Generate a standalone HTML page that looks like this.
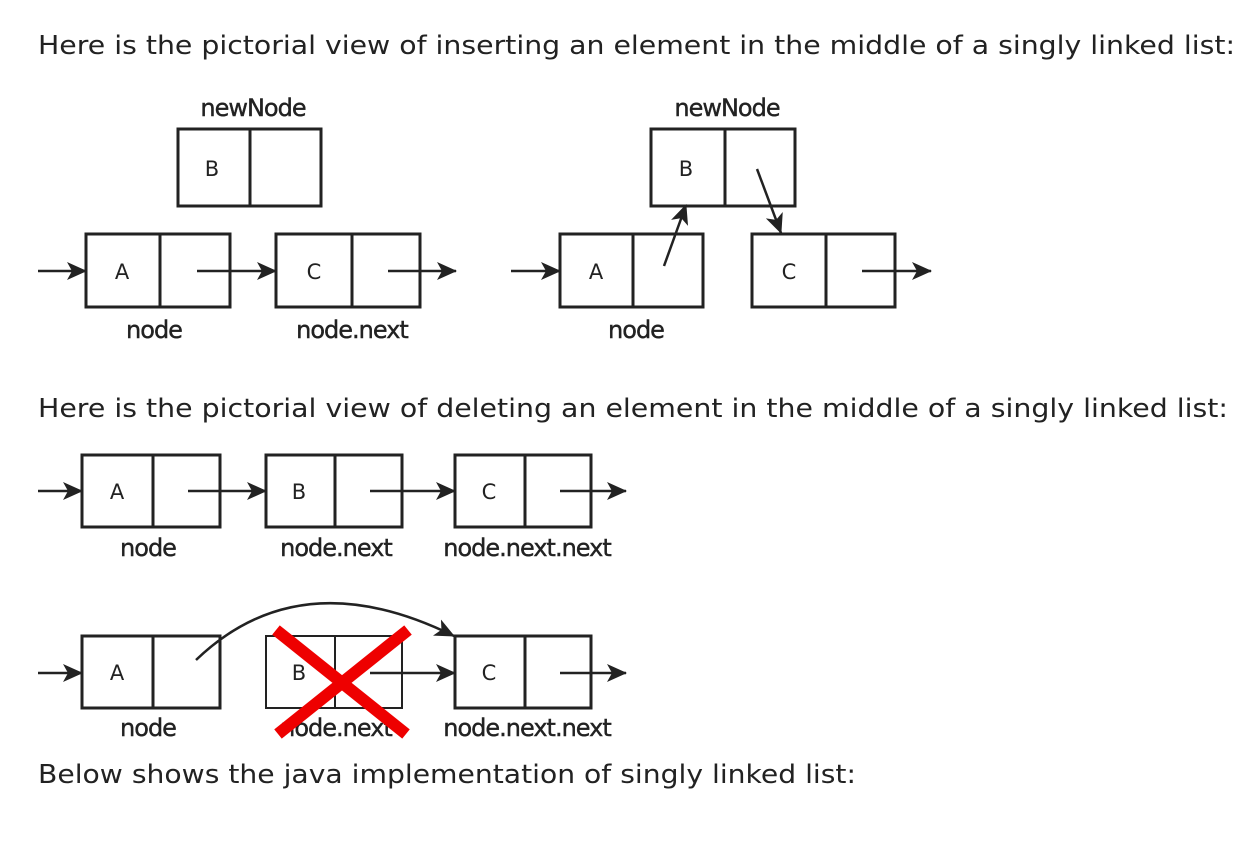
<!DOCTYPE html>
<html><head><meta charset="utf-8"><style>
html,body{margin:0;padding:0;background:#fff;width:1248px;height:843px;overflow:hidden}
svg{display:block}
.t{font-family:"DejaVu Sans","Liberation Sans",sans-serif;font-size:26px;fill:#222}
.l{font-family:"DejaVu Sans","Liberation Sans",sans-serif;font-size:24px;fill:#222;text-anchor:middle;letter-spacing:-1px;stroke:#222;stroke-width:0.4}
.b{font-family:"DejaVu Sans","Liberation Sans",sans-serif;font-size:21px;fill:#222;text-anchor:middle}
.bx{fill:none;stroke:#222;stroke-width:3}
.ln{stroke:#222;stroke-width:2.5;fill:none}
</style></head><body>
<svg width="1248" height="843" viewBox="0 0 1248 843">
<defs><marker id="a" markerWidth="20" markerHeight="18" refX="19" refY="9" orient="auto" markerUnits="userSpaceOnUse" viewBox="0 0 20 18"><path d="M0,0 L20,9 L0,18 L5,9 Z" fill="#222"/></marker></defs>
<text class="t" x="38" y="54" textLength="1197" lengthAdjust="spacingAndGlyphs">Here is the pictorial view of inserting an element in the middle of a singly linked list:</text>
<text class="t" x="38" y="417" textLength="1190" lengthAdjust="spacingAndGlyphs">Here is the pictorial view of deleting an element in the middle of a singly linked list:</text>
<text class="t" x="38" y="783" textLength="818" lengthAdjust="spacingAndGlyphs">Below shows the java implementation of singly linked list:</text>

<!-- insert left -->
<text class="l" x="253" y="116">newNode</text>
<rect class="bx" x="178" y="129" width="143" height="77"/><line class="bx" x1="250" y1="129" x2="250" y2="206"/>
<text class="b" x="212" y="176">B</text>
<rect class="bx" x="86" y="234" width="144" height="73"/><line class="bx" x1="160" y1="234" x2="160" y2="307"/>
<text class="b" x="122" y="279">A</text>
<rect class="bx" x="276" y="234" width="144" height="73"/><line class="bx" x1="352" y1="234" x2="352" y2="307"/>
<text class="b" x="314" y="279">C</text>
<line class="ln" x1="38" y1="271" x2="86" y2="271" marker-end="url(#a)"/>
<line class="ln" x1="197" y1="271" x2="276" y2="271" marker-end="url(#a)"/>
<line class="ln" x1="388" y1="271" x2="456" y2="271" marker-end="url(#a)"/>
<text class="l" x="154" y="338">node</text>
<text class="l" x="352" y="338">node.next</text>

<!-- insert right -->
<text class="l" x="727" y="116">newNode</text>
<rect class="bx" x="651" y="129" width="144" height="77"/><line class="bx" x1="725" y1="129" x2="725" y2="206"/>
<text class="b" x="686" y="176">B</text>
<rect class="bx" x="560" y="234" width="143" height="73"/><line class="bx" x1="633" y1="234" x2="633" y2="307"/>
<text class="b" x="596" y="279">A</text>
<rect class="bx" x="752" y="234" width="143" height="73"/><line class="bx" x1="826" y1="234" x2="826" y2="307"/>
<text class="b" x="789" y="279">C</text>
<line class="ln" x1="511" y1="271" x2="560" y2="271" marker-end="url(#a)"/>
<line class="ln" x1="664" y1="266" x2="686" y2="205" marker-end="url(#a)"/>
<line class="ln" x1="757" y1="169" x2="781" y2="233" marker-end="url(#a)"/>
<line class="ln" x1="862" y1="271" x2="931" y2="271" marker-end="url(#a)"/>
<text class="l" x="636" y="338">node</text>

<!-- delete top -->
<rect class="bx" x="82" y="455" width="138" height="72"/><line class="bx" x1="153" y1="455" x2="153" y2="527"/>
<text class="b" x="117" y="499">A</text>
<rect class="bx" x="266" y="455" width="136" height="72"/><line class="bx" x1="335" y1="455" x2="335" y2="527"/>
<text class="b" x="299" y="499">B</text>
<rect class="bx" x="455" y="455" width="136" height="72"/><line class="bx" x1="525" y1="455" x2="525" y2="527"/>
<text class="b" x="489" y="499">C</text>
<line class="ln" x1="38" y1="491" x2="82" y2="491" marker-end="url(#a)"/>
<line class="ln" x1="188" y1="491" x2="266" y2="491" marker-end="url(#a)"/>
<line class="ln" x1="370" y1="491" x2="455" y2="491" marker-end="url(#a)"/>
<line class="ln" x1="560" y1="491" x2="626" y2="491" marker-end="url(#a)"/>
<text class="l" x="148" y="556">node</text>
<text class="l" x="336" y="556">node.next</text>
<text class="l" x="527" y="556">node.next.next</text>

<!-- delete bottom -->
<rect class="bx" x="82" y="636" width="138" height="72"/><line class="bx" x1="153" y1="636" x2="153" y2="708"/>
<text class="b" x="117" y="680">A</text>
<rect class="bx" x="266" y="636" width="136" height="72" style="stroke-width:2"/><line class="bx" x1="335" y1="636" x2="335" y2="708" style="stroke-width:2"/>
<text class="b" x="299" y="680">B</text>
<rect class="bx" x="455" y="636" width="136" height="72"/><line class="bx" x1="525" y1="636" x2="525" y2="708"/>
<text class="b" x="489" y="680">C</text>
<line class="ln" x1="38" y1="673" x2="82" y2="673" marker-end="url(#a)"/>
<path class="ln" d="M196,660 Q300,560 454,636" marker-end="url(#a)"/>
<line class="ln" x1="370" y1="673" x2="455" y2="673" marker-end="url(#a)"/>
<line class="ln" x1="560" y1="673" x2="626" y2="673" marker-end="url(#a)"/>
<text class="l" x="148" y="736">node</text>
<text class="l" x="336" y="736">node.next</text>
<text class="l" x="527" y="736">node.next.next</text>
<line x1="276" y1="630" x2="406" y2="734" stroke="#e00" stroke-width="12"/>
<line x1="408" y1="630" x2="278" y2="734" stroke="#e00" stroke-width="12"/>
</svg>
</body></html>
